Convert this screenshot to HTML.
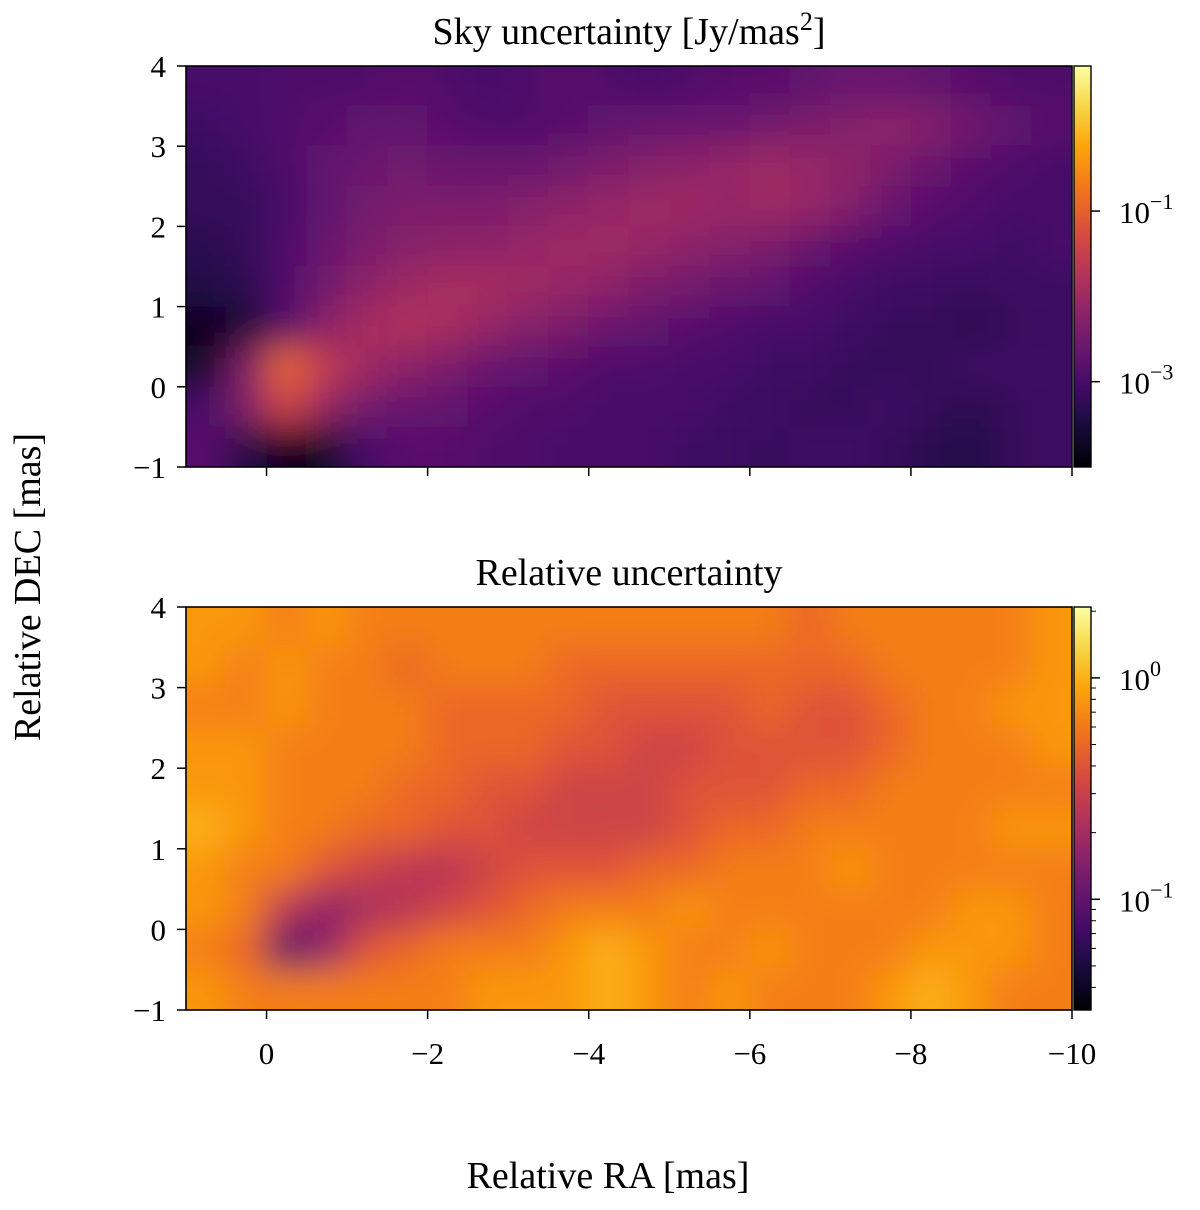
<!DOCTYPE html>
<html><head><meta charset="utf-8"><style>
html,body{margin:0;padding:0;background:#fff;}
svg text{font-family:"Liberation Serif",serif;fill:#000;}
</style></head><body>
<svg id="fig" width="1200" height="1205" viewBox="0 0 1200 1205" xmlns="http://www.w3.org/2000/svg">
<defs>
<filter id="blur" x="0" y="0" width="1200" height="1205" filterUnits="userSpaceOnUse"><feGaussianBlur stdDeviation="18"/></filter>
<clipPath id="clipTop"><rect x="186" y="66" width="886" height="401"/></clipPath>
<clipPath id="clipBot"><rect x="186" y="607" width="886" height="403"/></clipPath>
<linearGradient id="cmapGrad" x1="0" y1="1" x2="0" y2="0"></linearGradient>
</defs>
<g id="root"></g>
</svg>
<script>
// ---------- data ----------
const raCenters=[0.75,0.25,-0.25,-0.75,-1.25,-1.75,-2.25,-2.75,-3.25,-3.75,-4.25,-4.75,-5.25,-5.75,-6.25,-6.75,-7.25,-7.75,-8.25,-8.75,-9.25,-9.75];
const decCenters=[3.75,3.25,2.75,2.25,1.75,1.25,0.75,0.25,-0.25,-0.75];
const skyLog=[
[-3.0,-3.0,-2.9,-2.9,-2.9,-2.8,-2.9,-3.0,-2.9,-2.8,-2.9,-3.0,-2.9,-2.8,-2.8,-2.7,-2.6,-2.6,-2.7,-2.8,-2.9,-2.9],
[-3.1,-3.0,-2.9,-2.8,-2.7,-2.7,-2.8,-2.9,-2.9,-2.8,-2.7,-2.6,-2.6,-2.6,-2.5,-2.4,-2.3,-2.2,-2.3,-2.5,-2.7,-2.8],
[-3.2,-3.1,-2.9,-2.7,-2.6,-2.5,-2.6,-2.6,-2.6,-2.5,-2.4,-2.3,-2.2,-2.1,-2.0,-2.1,-2.2,-2.4,-2.6,-2.8,-2.9,-3.0],
[-3.2,-3.2,-3.0,-2.7,-2.5,-2.4,-2.4,-2.4,-2.3,-2.2,-2.1,-2.0,-2.0,-2.1,-2.0,-2.1,-2.3,-2.6,-2.8,-2.9,-3.0,-3.0],
[-3.3,-3.2,-2.9,-2.6,-2.4,-2.3,-2.2,-2.2,-2.1,-2.0,-2.0,-2.1,-2.2,-2.3,-2.4,-2.6,-2.8,-2.9,-3.0,-3.0,-3.1,-3.0],
[-3.4,-3.3,-2.9,-2.5,-2.2,-2.0,-1.9,-1.9,-2.0,-2.1,-2.2,-2.4,-2.5,-2.6,-2.7,-2.9,-3.0,-3.1,-3.1,-3.2,-3.1,-3.1],
[-3.8,-3.6,-2.8,-2.2,-1.9,-1.8,-1.9,-2.1,-2.3,-2.4,-2.6,-2.7,-2.8,-2.9,-3.0,-3.0,-3.1,-3.2,-3.2,-3.3,-3.2,-3.1],
[-3.7,-2.4,-0.9,-1.6,-2.0,-2.2,-2.4,-2.6,-2.7,-2.8,-2.9,-2.9,-3.0,-3.0,-3.1,-3.1,-3.2,-3.2,-3.2,-3.1,-3.1,-3.1],
[-3.0,-2.3,-1.4,-2.1,-2.5,-2.6,-2.7,-2.8,-2.9,-2.9,-3.0,-3.0,-3.0,-3.1,-3.1,-3.2,-3.2,-3.1,-3.2,-3.3,-3.2,-3.1],
[-2.8,-3.4,-3.8,-3.7,-3.0,-2.8,-2.8,-2.9,-2.9,-3.0,-3.0,-3.0,-3.1,-3.1,-3.2,-3.1,-3.1,-3.2,-3.3,-3.4,-3.2,-3.1]];
const relLog=[
[-0.1,-0.1,-0.2,-0.1,-0.2,-0.2,-0.2,-0.2,-0.2,-0.2,-0.2,-0.2,-0.2,-0.2,-0.2,-0.3,-0.2,-0.2,-0.2,-0.2,-0.2,-0.1],
[-0.1,-0.2,-0.1,-0.2,-0.2,-0.3,-0.2,-0.2,-0.2,-0.3,-0.3,-0.3,-0.3,-0.3,-0.3,-0.3,-0.3,-0.2,-0.2,-0.2,-0.2,-0.1],
[-0.2,-0.2,-0.1,-0.2,-0.2,-0.2,-0.3,-0.3,-0.3,-0.3,-0.4,-0.4,-0.4,-0.4,-0.3,-0.4,-0.4,-0.3,-0.2,-0.2,-0.1,-0.1],
[-0.1,-0.1,-0.2,-0.2,-0.2,-0.2,-0.3,-0.3,-0.3,-0.4,-0.4,-0.5,-0.5,-0.4,-0.4,-0.4,-0.4,-0.3,-0.2,-0.2,-0.2,-0.1],
[-0.1,-0.1,-0.2,-0.2,-0.2,-0.3,-0.3,-0.4,-0.4,-0.5,-0.5,-0.5,-0.4,-0.4,-0.4,-0.3,-0.3,-0.2,-0.2,-0.2,-0.2,-0.2],
[0.0,-0.1,-0.2,-0.2,-0.3,-0.3,-0.4,-0.4,-0.5,-0.5,-0.5,-0.5,-0.4,-0.3,-0.3,-0.2,-0.2,-0.2,-0.2,-0.2,-0.1,-0.1],
[-0.1,-0.2,-0.2,-0.4,-0.5,-0.6,-0.6,-0.5,-0.4,-0.4,-0.4,-0.3,-0.3,-0.2,-0.2,-0.2,-0.1,-0.2,-0.2,-0.2,-0.2,-0.2],
[-0.1,-0.2,-0.6,-0.8,-0.7,-0.6,-0.5,-0.4,-0.3,-0.2,-0.2,-0.2,-0.1,-0.2,-0.2,-0.2,-0.2,-0.2,-0.2,-0.1,-0.1,-0.2],
[-0.2,-0.3,-1.1,-0.8,-0.4,-0.3,-0.2,-0.2,-0.2,-0.1,0.0,-0.1,-0.2,-0.2,-0.1,-0.2,-0.2,-0.2,-0.1,-0.1,-0.1,-0.2],
[-0.1,-0.2,-0.2,-0.2,-0.2,-0.2,-0.2,-0.1,-0.1,-0.1,0.0,-0.1,-0.2,-0.1,-0.2,-0.2,-0.2,-0.1,0.0,-0.1,-0.2,-0.2]];
const xTicks=[0,-2,-4,-6,-8,-10];
const yTicks=[4,3,2,1,0,-1];
const skyRange=[-4.0,0.7];
const relRange=[-1.5,0.32];
const skyCbTicks=[-1,-3];
const relCbTicks=[0,-1];

// ---------- helpers ----------
const NS="http://www.w3.org/2000/svg";
const root=document.getElementById('root');
function el(tag,attrs,parent){const e=document.createElementNS(NS,tag);for(const k in attrs)e.setAttribute(k,attrs[k]);(parent||root).appendChild(e);return e;}
const stops=[[0,[0,0,4]],[0.1,[22,11,57]],[0.2,[66,10,104]],[0.3,[106,23,110]],[0.4,[147,38,103]],[0.5,[188,55,84]],[0.6,[221,81,58]],[0.7,[243,120,25]],[0.8,[252,165,10]],[0.9,[246,215,70]],[1,[252,255,164]]];
function inferno(t){t=Math.max(0,Math.min(1,t));for(let i=1;i<stops.length;i++){if(t<=stops[i][0]){const a=stops[i-1],b=stops[i];const f=(t-a[0])/(b[0]-a[0]);const c=a[1].map((v,j)=>Math.round(v+(b[1][j]-v)*f));return `rgb(${c[0]},${c[1]},${c[2]})`;}}return 'rgb(252,255,164)';}
const grad=document.getElementById('cmapGrad');
for(let i=0;i<=20;i++){const s=document.createElementNS(NS,'stop');s.setAttribute('offset',i/20);s.setAttribute('stop-color',inferno(i/20));grad.appendChild(s);}
const X0=186,X1=1072;
function xScale(ra){return X0+(1-ra)/11*(X1-X0);}

function panel(name,top,bot,grid,range,title,cbTicks,minor){
  function yScale(d){return top+(4-d)/5*(bot-top);}
  const clip=el('g',{'clip-path':`url(#${name==='sky'?'clipTop':'clipBot'})`});
  
  
  const g=el('g',{filter:'url(#blur)'},clip);
  const nR=decCenters.length,nC=raCenters.length;
  const cw=(X1-X0)/nC, ch=(bot-top)/nR;
  const dRA=raCenters[1]-raCenters[0], dDec=decCenters[1]-decCenters[0];
  for(let r=-2;r<nR+2;r++)for(let c=-2;c<nC+2;c++){
    const rr=Math.max(0,Math.min(nR-1,r)), cc=Math.max(0,Math.min(nC-1,c));
    const ra=raCenters[0]+c*dRA, d=decCenters[0]+r*dDec;
    const v=grid[rr][cc];const t=(v-range[0])/(range[1]-range[0]);
    const cell=el('rect',{x:xScale(ra)-cw/2-0.5,y:yScale(d)-ch/2-0.5,width:cw+1,height:ch+1,fill:inferno(t)},g);
    
    
  }
  const fr=el('rect',{x:X0,y:top,width:X1-X0,height:bot-top,fill:'none',stroke:'#000','stroke-width':1.6});
  
  
  const tt=el('text',{x:629,y:top-22,'font-size':38,'text-anchor':'middle'});
  tt.innerHTML=title;
  
  
  yTicks.forEach(v=>{const y=yScale(v);el('line',{x1:X0-9,x2:X0,y1:y,y2:y,stroke:'#000','stroke-width':1.5});
    const t=el('text',{x:X0-20,y:y+11,'font-size':31,'text-anchor':'end'});t.textContent=v<0?'\u2212'+(-v):v;
    
    });
  xTicks.forEach(v=>{const x=xScale(v);el('line',{x1:x,x2:x,y1:bot,y2:bot+9,stroke:'#000','stroke-width':1.5});
    if(name==='rel'){const t=el('text',{x:x,y:bot+54,'font-size':31,'text-anchor':'middle'});t.textContent=v<0?'\u2212'+(-v):v;
    
    }});
  const cx=1074,cwid=17;
  const cb=el('rect',{x:cx,y:top,width:cwid,height:bot-top,fill:'url(#cmapGrad)',stroke:'#000','stroke-width':1.4});
  
  
  function cy(l){return bot-(l-range[0])/(range[1]-range[0])*(bot-top);}
  cbTicks.forEach(l=>{const y=cy(l);el('line',{x1:cx+cwid,x2:cx+cwid+9,y1:y,y2:y,stroke:'#000','stroke-width':1.5});
    const t=el('text',{x:cx+cwid+28,y:y+12,'font-size':31});t.innerHTML=`10<tspan dy="-14" font-size="22">\u2212${-l||''}</tspan>`;
    if(l===0)t.innerHTML='10<tspan dy="-14" font-size="22">0</tspan>';
    
    });
  if(minor){for(let e=-2;e<=0;e++)for(let m=2;m<=9;m++){const l=e+Math.log10(m);if(l<range[0]||l>range[1])continue;const y=cy(l);
    el('line',{x1:cx+cwid,x2:cx+cwid+5,y1:y,y2:y,stroke:'#000','stroke-width':1});}}
}
panel('sky',66,467,skyLog,skyRange,'Sky uncertainty [Jy/mas<tspan dy="-14" font-size="26">2</tspan><tspan dy="14">]</tspan>',skyCbTicks,false);
panel('rel',607,1010,relLog,relRange,'Relative uncertainty',relCbTicks,true);
const yl=el('text',{x:0,y:0,'font-size':38,'text-anchor':'middle',transform:'translate(40,587) rotate(-90)'});
yl.textContent='Relative DEC [mas]';


const xl=el('text',{x:608,y:1188,'font-size':38,'text-anchor':'middle'});
xl.textContent='Relative RA [mas]';


</script>
</body></html>
